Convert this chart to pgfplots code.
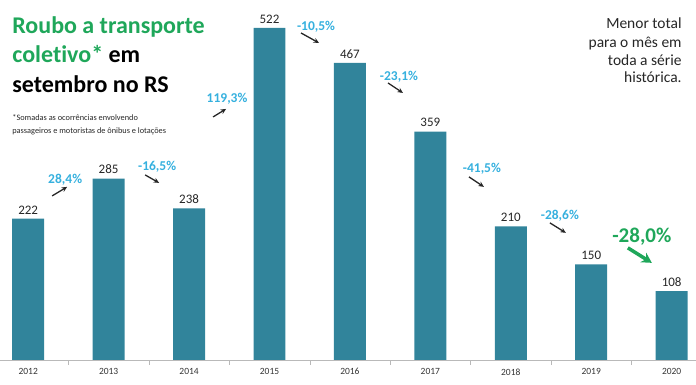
\documentclass[border=0pt]{standalone}
\usepackage{pgfplots}
\pgfplotsset{compat=1.18}
\usepackage{fontspec}
\setmainfont{Carlito}[Ligatures=NoCommon]
\usetikzlibrary{arrows.meta}
\definecolor{barc}{HTML}{31849B}
\definecolor{pct}{HTML}{35B0DE}
\definecolor{grn}{HTML}{1FA75A}
\begin{document}
\begin{tikzpicture}
\begin{axis}[
  scale only axis, width=696pt, height=360pt,
  xmin=-0.348, xmax=8.3, ymin=0, ymax=566,
  axis x line=bottom, axis y line=none,
  x axis line style={draw=gray!55, -},
  ybar, bar width=32pt,
  xtick={0,...,8},
  xticklabels={2012,2013,2014,2015,2016,2017,2018,2019,2020},
  major x tick style={draw=none},
  extra x ticks={0.5,1.5,2.5,3.5,4.5,5.5,6.5,7.5},
  extra x tick labels={},
  extra x tick style={tick align=outside, major tick length=5pt, major x tick style={draw=gray!55}},
  xticklabel style={font=\fontsize{9.5}{10}\selectfont, text=black!80, yshift=-1pt},
  /pgf/number format/assume math mode=true,
  nodes near coords,
  every node near coord/.append style={font=\fontsize{13}{14}\selectfont, text=black!85, yshift=1pt},
  clip=false,
]
\addplot[fill=barc, draw=none] coordinates {(0,222) (1,285) (2,238) (3,522) (4,467) (5,359) (6,210) (7,150) (8,108)};
\end{axis}
\begin{scope}[x=1pt,y=1pt]
\path[use as bounding box] (0,-25) rectangle (696,360);
% title
\node[anchor=base west, inner sep=0, font=\fontsize{24}{24}\selectfont\bfseries, text=grn] at (12,326) {Roubo a transporte};
\node[anchor=base west, inner sep=0, font=\fontsize{24}{24}\selectfont\bfseries] at (12,297) {\textcolor{grn}{coletivo*} em};
\node[anchor=base west, inner sep=0, font=\fontsize{24}{24}\selectfont\bfseries] at (12,267) {setembro no RS};
\node[anchor=base west, inner sep=0, font=\fontsize{8.3}{9}\selectfont, text=black!85] at (12,239) {*Somadas as ocorrências envolvendo};
\node[anchor=base west, inner sep=0, font=\fontsize{8.3}{9}\selectfont, text=black!85] at (12,226) {passageiros e motoristas de ônibus e lotações};
% note
\node[anchor=base east, inner sep=0, font=\fontsize{15.5}{16}\selectfont, text=black!85] at (682,331) {Menor total};
\node[anchor=base east, inner sep=0, font=\fontsize{15.5}{16}\selectfont, text=black!85] at (682,312) {para o mês em};
\node[anchor=base east, inner sep=0, font=\fontsize{15.5}{16}\selectfont, text=black!85] at (682,294) {toda a série};
\node[anchor=base east, inner sep=0, font=\fontsize{15.5}{16}\selectfont, text=black!85] at (682,277) {histórica.};
% percent labels
\tikzset{pl/.style={font=\fontsize{13.5}{14}\selectfont\bfseries, text=pct, inner sep=0},
         ar/.style={-{Stealth[length=5.5pt,width=5pt]}, line width=1.3pt, black!85}}
\node[pl] at (65,180) {28,4\%};   \draw[ar] (52,164) -- (67,173);
\node[pl] at (157,193) {-16,5\%}; \draw[ar] (145,185) -- (159,177);
\node[pl] at (227,261) {119,3\%}; \draw[ar] (213,243) -- (226,251);
\node[pl] at (316,333) {-10,5\%}; \draw[ar] (301,327) -- (319,317);
\node[pl] at (399,283) {-23,1\%}; \draw[ar] (388,277) -- (403,267);
\node[pl] at (482,191) {-41,5\%}; \draw[ar] (469,183) -- (484,173);
\node[pl] at (560,144) {-28,6\%}; \draw[ar] (550,137) -- (566,127);
\node[font=\fontsize{21}{22}\selectfont\bfseries, text=grn, inner sep=0] at (642,123) {-28,0\%};
\draw[-{Stealth[length=10pt,width=11pt]}, line width=3.5pt, grn] (628,112) -- (652,97);
\end{scope}
\end{tikzpicture}
\end{document}
